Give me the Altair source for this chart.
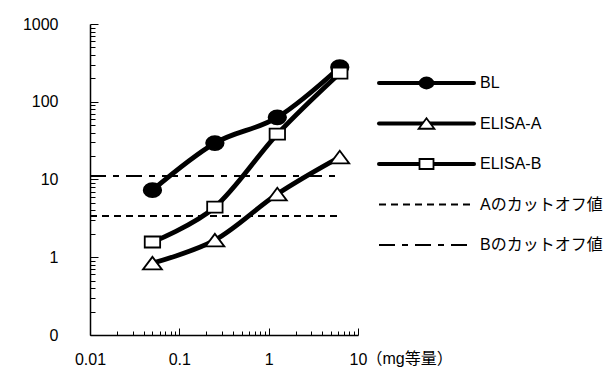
import altair as alt
import pandas as pd

# ---- data ----
doses = [0.05, 0.25, 1.25, 6.25]
series_names = ["BL", "ELISA-A", "ELISA-B"]
bl_values = [7.3, 29.4, 63.0, 278.0]
elisa_a_values = [0.84, 1.66, 6.5, 19.4]
elisa_b_values = [1.57, 4.42, 38.3, 233.0]
cutoff_names = ["Aのカットオフ値", "Bのカットオフ値"]
cutoff_levels = [3.4, 11.1]
cutoff_x = [0.01, 6.5]
x_tick_values = [0.01, 0.1, 1, 10]
x_tick_labels = ["0.01", "0.1", "1", "10"]
y_tick_values = [0.1, 1, 10, 100, 1000]
y_tick_labels = ["0", "1", "10", "100", "1000"]
x_title = "（mg等量）"

FONT = "Liberation Sans, Noto Sans CJK JP, sans-serif"
W, H = 268, 311

rows = []
for name, vals in zip(series_names, [bl_values, elisa_a_values, elisa_b_values]):
    for d, v in zip(doses, vals):
        rows.append({"series": name, "dose": d, "value": v})
series_df = pd.DataFrame(rows)

cut_rows = []
for name, lvl in zip(cutoff_names, cutoff_levels):
    for x in cutoff_x:
        cut_rows.append({"name": name, "dose": x, "value": lvl})
cut_df = pd.DataFrame(cut_rows)


def label_expr(values, labels):
    expr = "''"
    for v, l in reversed(list(zip(values, labels))):
        expr = f"abs(datum.value - {v}) < {v * 1e-6} ? '{l}' : ({expr})"
    return expr


def all_ticks(values):
    out = []
    for v in values[:-1]:
        out += [round(v * k, 6) for k in range(1, 10)]
    out.append(values[-1])
    return out


major_test = "abs(log(datum.value)/LN10 - round(log(datum.value)/LN10)) < 0.001"

xs = alt.Scale(type="log", domain=[0.01, 10])
ys = alt.Scale(type="log", domain=[0.1, 1000])

x_label_axis = alt.Axis(
    values=x_tick_values, labelExpr=label_expr(x_tick_values, x_tick_labels),
    ticks=False, domain=True, domainColor="black", domainWidth=1.5, grid=False,
    labelFont=FONT, labelFontSize=16, labelColor="black", labelPadding=16,
    labelFlush=False, labelOverlap=False,
    title=x_title, titleFont=FONT, titleFontSize=16, titleFontWeight="normal",
    titleColor="black", titleX=W + 8, titleY=15, titleAlign="left",
    titleBaseline="top", titleAngle=0,
)
y_label_axis = alt.Axis(
    values=y_tick_values, labelExpr=label_expr(y_tick_values, y_tick_labels),
    ticks=False, domain=True, domainColor="black", domainWidth=1.5, grid=False,
    labelFont=FONT, labelFontSize=16, labelColor="black", labelPadding=32,
    labelFlush=False, labelOverlap=False, title=None,
)
x_tick_axis = alt.Axis(
    orient="top", offset=-H, values=all_ticks(x_tick_values), labels=False,
    domain=False, grid=False, ticks=True, tickColor="black", tickWidth=1,
    tickSize={"condition": {"test": major_test, "value": 7}, "value": 4},
    title=None,
)
y_tick_axis = alt.Axis(
    orient="right", offset=-W, values=all_ticks(y_tick_values), labels=False,
    domain=False, grid=False, ticks=True, tickColor="black", tickWidth=1,
    tickSize={"condition": {"test": major_test, "value": 8}, "value": 5},
    title=None,
)

ellipse = "M-1.25,0A1.25,1,0,1,1,1.25,0A1.25,1,0,1,1,-1.25,0Z"
triangle = "M0,-1L1.5,1L-1.5,1Z"
rect = "M-1.4,-1L1.4,-1L1.4,1L-1.4,1Z"
shape_range = [ellipse, triangle, rect]
fill_range = ["black", "white", "white"]
dash_range = [[7, 5], [16, 7, 6, 7]]

cut_layer = alt.Chart(cut_df).mark_line(color="black", strokeWidth=2).encode(
    x=alt.X("dose:Q", scale=xs, axis=x_tick_axis),
    y=alt.Y("value:Q", scale=ys, axis=y_tick_axis),
    strokeDash=alt.StrokeDash("name:N", scale=alt.Scale(domain=cutoff_names, range=dash_range), legend=None),
)

line_layer = alt.Chart(series_df).mark_line(
    color="black", strokeWidth=4.8, interpolate="cardinal"
).encode(
    x=alt.X("dose:Q", scale=xs, axis=x_label_axis),
    y=alt.Y("value:Q", scale=ys, axis=y_label_axis),
    detail="series:N",
)

point_layer = alt.Chart(series_df).mark_point(
    filled=True, stroke="black", strokeWidth=1.8, opacity=1
).encode(
    x=alt.X("dose:Q", scale=xs, axis=None),
    y=alt.Y("value:Q", scale=ys, axis=None),
    shape=alt.Shape("series:N", scale=alt.Scale(domain=series_names, range=shape_range), legend=None),
    fill=alt.Fill("series:N", scale=alt.Scale(domain=series_names, range=fill_range), legend=None),
    size=alt.Size("series:N", scale=alt.Scale(domain=series_names, range=[196, 121, 121]), legend=None),
)

main = alt.layer(cut_layer, line_layer, point_layer).resolve_axis(
    x="independent", y="independent"
).properties(width=W, height=H)

# ---- legend panel ----
leg_df = pd.DataFrame({
    "label": series_names + cutoff_names,
    "row": list(range(len(series_names) + len(cutoff_names))),
    "kind": ["series"] * len(series_names) + ["cut"] * len(cutoff_names),
})
lx = alt.Scale(domain=[0, 1], range=[0, 95])
ly = alt.Scale(domain=[0, 4], range=[59, 221])
leg_base = alt.Chart(leg_df).transform_calculate(x0="0", x1="1", xm="0.5")

leg_series = leg_base.transform_filter("datum.kind == 'series'").mark_rule(
    color="black", strokeWidth=4, strokeCap="round"
).encode(
    x=alt.X("x0:Q", scale=lx, axis=None), x2="x1:Q",
    y=alt.Y("row:Q", scale=ly, axis=None),
)
leg_cut = leg_base.transform_filter("datum.kind == 'cut'").mark_rule(
    color="black", strokeWidth=2
).encode(
    x=alt.X("x0:Q", scale=lx, axis=None), x2="x1:Q",
    y=alt.Y("row:Q", scale=ly, axis=None),
    strokeDash=alt.StrokeDash("label:N", scale=alt.Scale(domain=cutoff_names, range=dash_range), legend=None),
)
leg_marks = leg_base.transform_filter("datum.kind == 'series'").mark_point(
    filled=True, stroke="black", strokeWidth=1.8, opacity=1
).encode(
    x=alt.X("xm:Q", scale=lx, axis=None),
    y=alt.Y("row:Q", scale=ly, axis=None),
    shape=alt.Shape("label:N", scale=alt.Scale(domain=series_names, range=shape_range), legend=None),
    fill=alt.Fill("label:N", scale=alt.Scale(domain=series_names, range=fill_range), legend=None),
    size=alt.Size("label:N", scale=alt.Scale(domain=series_names, range=[121, 100, 90]), legend=None),
)
leg_text = leg_base.mark_text(
    align="left", baseline="middle", dx=6, font=FONT, fontSize=16, color="black"
).encode(
    x=alt.X("x1:Q", scale=lx, axis=None),
    y=alt.Y("row:Q", scale=ly, axis=None),
    text="label:N",
)
legend = alt.layer(leg_series, leg_cut, leg_marks, leg_text).properties(width=100, height=H)

chart = alt.hconcat(main, legend, spacing=21, bounds="flush").resolve_scale(
    shape="independent", fill="independent", size="independent", strokeDash="independent"
).configure_view(strokeWidth=0).properties(
    padding={"left": 14, "top": 8, "right": 0, "bottom": 5}
)

chart.save("out.html", embed_options={"renderer": "svg", "actions": False})
